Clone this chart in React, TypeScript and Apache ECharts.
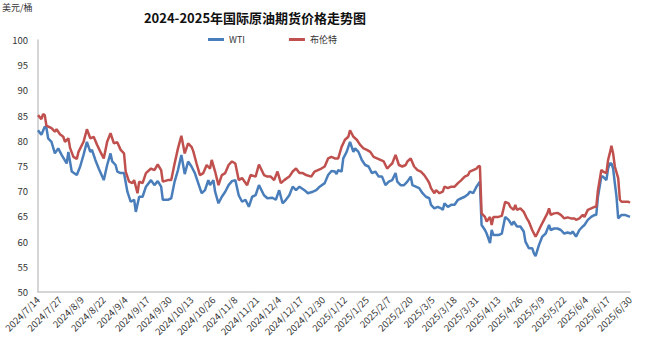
import React, { useEffect, useRef } from "react";
import * as echarts from "echarts";

const TITLE = "2024-2025年国际原油期货价格走势图";
const UNIT = "美元/桶";
const SERIES_NAMES = ["WTI", "布伦特"];

// day offsets from 2024/7/14 and prices (USD/bbl)
const wtiDays = [0, 2, 4, 5, 6, 8, 10, 12, 14, 17, 18, 20, 23, 25, 27, 29, 31, 32, 34, 36, 39, 41, 43, 44, 46, 47, 49, 51, 53, 55, 57, 58,
  60, 62, 64, 67, 69, 71, 73, 74, 77, 79, 81, 83, 85, 87, 89, 91, 93, 95, 97, 99, 101, 102, 104, 105, 107, 109, 111, 113, 115,
  117, 119, 121, 123, 125, 127, 129, 131, 134, 136, 139, 141, 143, 145, 147, 149, 151, 153, 155, 158, 160, 163, 165, 167, 170, 172, 174,
  176, 177, 178, 180, 181, 183, 184, 185, 187, 188, 190, 192, 194, 196, 198, 200, 202, 204, 206, 208, 210, 212, 213, 215, 217, 219, 221, 222, 224, 226, 228, 230, 232,
  233, 235, 237, 239, 240, 241, 243, 245, 247, 249, 251, 253, 255, 256, 258, 260, 262, 263, 265, 266, 268, 269, 270, 273, 275, 277, 279, 281, 282, 284, 286, 288, 289, 291,
  293, 294, 295, 297, 299, 301, 303, 304, 306, 308, 310, 312, 314, 316, 317, 319, 321, 323, 324, 326, 328, 330, 331, 332, 334, 335, 337, 338, 339, 340, 341, 342, 343, 344, 346, 348, 351];
const wtiValues = [82.1, 81.2, 82.8, 82.6, 80.5, 79.8, 77.5, 78.5, 77.2, 75.5, 77.8, 73.9, 73.2, 74.9, 77.2, 79.8, 77.8, 78.2, 76.2, 74.5, 72.2, 75.2, 77.5, 75.9, 75.2, 73.9, 73.6, 73.6, 69.9, 67.9, 68.3, 65.9,
  68.9, 68.9, 70.9, 72.2, 71.2, 72.0, 70.9, 68.3, 68.3, 68.6, 71.9, 74.2, 77.2, 73.4, 75.9, 74.9, 73.6, 71.6, 69.6, 70.2, 72.2, 71.2, 72.2, 69.9, 67.6, 68.9, 69.9, 71.2, 72.0,
  72.2, 69.2, 67.9, 68.3, 66.9, 68.9, 69.2, 71.2, 69.2, 68.6, 68.7, 68.3, 70.2, 67.6, 68.3, 69.2, 70.9, 70.2, 70.9, 70.2, 69.6, 69.9, 70.2, 70.9, 71.6, 73.2, 74.0,
  73.9, 73.4, 74.2, 73.9, 76.5, 77.8, 78.8, 79.8, 77.8, 78.5, 77.8, 76.2, 75.2, 74.9, 73.6, 73.9, 72.9, 72.9, 71.2, 71.9, 72.2, 73.6, 71.9, 71.2, 71.2, 71.9, 72.9, 71.2, 70.9, 70.6, 69.6, 68.9, 68.6,
  67.3, 66.6, 66.9, 66.6, 66.3, 67.6, 66.9, 67.3, 67.3, 68.3, 68.6, 68.9, 69.4, 69.9, 69.6, 70.9, 71.9, 63.3, 62.3, 61.6, 59.7, 62.3, 61.3, 61.3, 61.6, 64.9, 64.3, 63.3, 64.0, 63.0, 63.0, 62.0, 60.0, 58.7,
  58.7, 57.7, 57.1, 59.3, 61.0, 61.6, 63.3, 62.3, 62.6, 62.6, 62.3, 61.6, 61.8, 61.6, 62.0, 61.0, 62.3, 63.0, 63.3, 64.3, 64.9, 65.3, 65.3, 68.9, 72.9, 72.9, 72.2, 74.5, 75.5, 75.5, 74.5, 71.6, 68.9, 64.6, 65.3, 65.3, 64.9];

const brentDays = [0, 2, 3, 4, 5, 8, 10, 11, 13, 15, 16, 18, 19, 21, 23, 24, 27, 29, 31, 33, 35, 37, 39, 41, 43, 45, 47, 49, 51, 52, 54, 56, 57,
  59, 60, 62, 64, 67, 69, 71, 73, 74, 77, 79, 81, 83, 85, 87, 89, 91, 92, 94, 96, 98, 100, 102, 103, 105, 107, 109, 111, 113, 115,
  117, 119, 121, 124, 126, 129, 131, 134, 136, 138, 140, 142, 144, 146, 149, 151, 153, 155, 157, 159, 162, 164, 166, 168, 170, 172, 174,
  176, 178, 180, 182, 184, 185, 187, 189, 191, 193, 195, 197, 199, 201, 203, 205, 207, 209, 210, 212, 214, 216, 218, 219, 221, 223, 225, 227, 229, 231, 232,
  233, 235, 236, 238, 240, 241, 243, 245, 247, 249, 251, 253, 255, 256, 258, 260, 261, 262, 263, 265, 266, 268, 269, 270, 273, 275, 277, 279, 280, 282, 283, 284, 286, 288, 290, 291,
  293, 295, 296, 298, 300, 302, 303, 304, 306, 308, 310, 312, 314, 316, 318, 319, 321, 323, 324, 326, 328, 330, 331, 332, 334, 335, 337, 338, 339, 340, 341, 342, 344, 345, 346, 348, 350, 351];
const brentValues = [85.1, 84.3, 85.3, 85.1, 83.0, 82.5, 81.8, 82.3, 81.3, 80.8, 79.8, 80.5, 78.6, 76.8, 76.4, 77.8, 79.8, 82.3, 80.5, 80.8, 79.2, 77.8, 76.5, 79.8, 81.5, 79.5, 79.7, 78.2, 77.5, 73.9, 71.9, 71.6, 72.2,
  69.6, 71.9, 71.6, 73.6, 74.5, 74.2, 75.3, 74.2, 71.9, 72.2, 72.2, 75.5, 78.5, 81.0, 77.5, 79.5, 78.8, 78.0, 75.5, 73.2, 73.6, 75.2, 74.5, 76.2, 73.9, 71.2, 73.2, 73.6, 75.2, 75.9,
  75.5, 72.2, 72.6, 71.2, 73.2, 72.9, 75.3, 73.2, 72.9, 72.9, 72.2, 73.9, 71.6, 72.2, 72.9, 73.9, 74.5, 73.6, 73.6, 73.2, 72.9, 73.9, 74.2, 74.5, 74.9, 76.5, 76.8,
  76.5, 76.5, 78.8, 80.2, 80.8, 82.1, 80.8, 80.2, 79.2, 78.5, 78.2, 77.8, 76.8, 76.5, 76.2, 75.9, 74.5, 75.2, 75.5, 77.2, 75.2, 74.9, 75.2, 75.9, 76.5, 74.9, 74.2, 73.9, 73.2, 72.2, 71.6,
  70.6, 69.6, 70.2, 69.6, 69.9, 70.9, 70.6, 70.9, 70.9, 71.6, 72.2, 72.9, 73.2, 73.9, 74.2, 74.5, 74.9, 75.0, 65.6, 64.9, 64.0, 64.9, 63.3, 64.9, 64.9, 65.1, 67.9, 67.6, 66.9, 66.3, 67.3, 66.3, 66.6, 65.9, 64.5, 64.0,
  62.3, 61.0, 61.6, 63.0, 64.3, 65.6, 66.6, 65.3, 65.6, 65.7, 65.3, 64.6, 64.8, 64.6, 64.6, 64.3, 64.6, 65.3, 64.9, 66.3, 66.6, 66.9, 66.9, 70.2, 74.2, 73.9, 73.6, 76.2, 77.5, 79.0, 77.5, 74.9, 72.6, 68.3, 67.9, 67.9, 67.9, 67.7];

const Y_MIN = 50;
const Y_MAX = 100;
const Y_STEP = 5;
const X_MAX_DAY = 351;
const X_STEP_DAYS = 13;

function dayToLabel(v: number): string {
  const base = Date.UTC(2024, 6, 14);
  const d = new Date(base + Math.round(v) * 86400000);
  return `${d.getUTCFullYear()}/${d.getUTCMonth() + 1}/${d.getUTCDate()}`;
}

export default function App() {
  const ref = useRef<HTMLDivElement>(null);
  useEffect(() => {
    if (!ref.current) return;
    const chart = echarts.init(ref.current, null, { renderer: "svg" });
    const font = "'Noto Sans CJK SC', 'Noto Sans', sans-serif";
    chart.setOption({
      animation: false,
      backgroundColor: "#ffffff",
      title: {
        text: TITLE,
        left: 250,
        textAlign: "center",
        top: 6,
        textStyle: { fontFamily: font, fontSize: 13, fontWeight: "bold", color: "#111" },
      },
      graphic: [
        {
          type: "text",
          left: 2,
          top: 3,
          style: { text: UNIT, fontFamily: font, fontSize: 9, fill: "#333" },
        },
      ],
      legend: {
        left: 203,
        top: 30,
        itemWidth: 16,
        itemHeight: 3,
        itemGap: 44,
        icon: "rect",
        textStyle: { fontFamily: font, fontSize: 9, color: "#333" },
        data: SERIES_NAMES,
      },
      grid: { left: 38, right: 20, top: 40, bottom: 48, containLabel: false },
      xAxis: {
        type: "value",
        min: 0,
        max: X_MAX_DAY,
        interval: X_STEP_DAYS,
        axisLine: { show: true, lineStyle: { color: "#c8c8c8", width: 1.5 } },
        axisTick: { show: false },
        splitLine: { show: false },
        axisLabel: {
          rotate: 45,
          fontFamily: font,
          fontSize: 9.5,
          color: "#333",
          margin: 6,
          showMinLabel: true,
          showMaxLabel: true,
          formatter: (v: number) => dayToLabel(v),
        },
      },
      yAxis: {
        type: "value",
        min: Y_MIN,
        max: Y_MAX,
        interval: Y_STEP,
        axisLine: { show: true, lineStyle: { color: "#c8c8c8", width: 1.5 } },
        axisTick: { show: false },
        splitLine: { show: false },
        axisLabel: { fontFamily: font, fontSize: 9.5, color: "#333", margin: 10 },
      },
      series: [
        {
          name: SERIES_NAMES[0],
          type: "line",
          data: wtiDays.map((d, i) => [d, wtiValues[i]]),
          showSymbol: false,
          symbol: "none",
          lineStyle: { color: "#4a7ebb", width: 2.5 },
          itemStyle: { color: "#4a7ebb" },
          z: 2,
        },
        {
          name: SERIES_NAMES[1],
          type: "line",
          data: brentDays.map((d, i) => [d, brentValues[i]]),
          showSymbol: false,
          symbol: "none",
          lineStyle: { color: "#c0504d", width: 2.5 },
          itemStyle: { color: "#c0504d" },
          z: 3,
        },
      ],
    });
    return () => chart.dispose();
  }, []);
  return <div ref={ref} style={{ width: 650, height: 340, position: "absolute", left: 0, top: 0 }} />;
}
